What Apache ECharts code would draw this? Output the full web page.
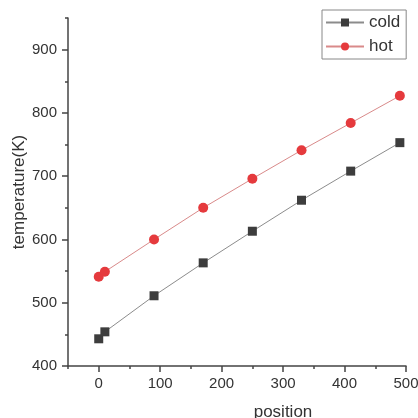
<!DOCTYPE html>
<html>
<head>
<meta charset="utf-8">
<script src="https://cdn.jsdelivr.net/npm/echarts@6/dist/echarts.min.js"></script>
<style>html,body{margin:0;padding:0;background:#fff}#c{width:418px;height:418px}</style>
</head>
<body>
<div id="c"></div>
<script>
const positions = [0, 10, 90, 170, 250, 330, 410, 490];
const coldValues = [443, 454, 511, 563, 613, 662, 708, 753];
const hotValues = [541, 549, 600, 650, 696, 741, 784, 827];
const xTickLabels = [0, 100, 200, 300, 400, 500];
const yTickLabels = [400, 500, 600, 700, 800, 900];

const font = 'Liberation Sans, Arial, sans-serif';
const axisColor = '#444';
const textColor = '#333';

const chart = echarts.init(document.getElementById('c'), null, {renderer: 'canvas'});
chart.setOption({
  animation: false,
  backgroundColor: '#fff',
  grid: {left: 68, right: 12, top: 18, bottom: 52, containLabel: false, outerBoundsMode: 'none'},
  legend: {
    orient: 'vertical',
    left: 322, top: 10,
    padding: [4, 6, 4, 3],
    borderColor: '#888', borderWidth: 1,
    itemWidth: 38, itemHeight: 10, itemGap: 7,
    textStyle: {fontFamily: font, fontSize: 17, color: textColor, lineHeight: 17},
    data: ['cold', 'hot']
  },
  xAxis: [{
    type: 'value', min: -50, max: 500,
    axisLine: {onZero: false, lineStyle: {color: axisColor, width: 1.5}},
    splitLine: {show: false},
    axisTick: {customValues: xTickLabels, length: 6, lineStyle: {color: axisColor, width: 1.5}},
    axisLabel: {customValues: xTickLabels, fontFamily: font, fontSize: 15, color: textColor, margin: 10},
    name: 'position', nameLocation: 'middle', nameGap: 38, nameMoveOverlap: false,
    nameTextStyle: {fontFamily: font, fontSize: 17, color: textColor, padding: [0, 0, 0, 92]}
  }, {
    type: 'value', min: -50, max: 500, interval: 50, position: 'bottom', offset: 0,
    axisLine: {show: false, onZero: false}, splitLine: {show: false},
    axisTick: {length: 3, lineStyle: {color: axisColor, width: 1.5}},
    axisLabel: {show: false}
  }],
  yAxis: [{
    type: 'value', min: 400, max: 950,
    position: 'left', offset: 0,
    axisLine: {show: true, onZero: false, lineStyle: {color: axisColor, width: 1.5}},
    splitLine: {show: false},
    axisTick: {show: true, customValues: yTickLabels, length: 6, lineStyle: {color: axisColor, width: 1.5}},
    axisLabel: {customValues: yTickLabels, fontFamily: font, fontSize: 15, color: textColor, margin: 11},
    name: 'temperature(K)', nameLocation: 'middle', nameGap: 40, nameRotate: 90, nameMoveOverlap: false,
    nameTextStyle: {fontFamily: font, fontSize: 17, color: textColor}
  }, {
    type: 'value', min: 400, max: 950, interval: 50,
    position: 'left', offset: 0,
    axisLine: {show: false, onZero: false}, splitLine: {show: false},
    axisTick: {show: true, length: 3, lineStyle: {color: axisColor, width: 1.5}},
    axisLabel: {show: false}
  }],
  series: [{
    name: 'cold', type: 'line',
    data: positions.map((p, i) => [p, coldValues[i]]),
    symbol: 'rect', symbolSize: 9,
    itemStyle: {color: '#3d3d3d'},
    lineStyle: {color: '#8c8c8c', width: 1}
  }, {
    name: 'hot', type: 'line',
    data: positions.map((p, i) => [p, hotValues[i]]),
    symbol: 'circle', symbolSize: 10,
    itemStyle: {color: '#e53a3d'},
    lineStyle: {color: '#d98a8a', width: 1}
  }]
});
</script>
</body>
</html>
